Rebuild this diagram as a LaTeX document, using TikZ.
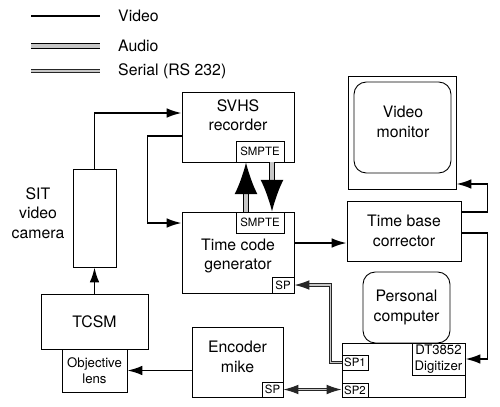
\documentclass[tikz,border=0pt]{standalone}
\usepackage{fontspec}
\setmainfont{TeX Gyre Heros}
\usetikzlibrary{arrows.meta,positioning,calc}

\begin{document}
\begin{tikzpicture}[x=0.02cm,y=-0.02cm,>={Latex[length=8.5pt,width=5.5pt]}, every node/.style={font=\fontsize{9}{11}\selectfont}]
\tikzstyle{box}=[draw,line width=0.5pt,inner sep=0pt,align=center]
\tikzstyle{sub}=[box,font=\fontsize{6.5}{7.5}\selectfont]
\tikzstyle{small}=[box,font=\fontsize{7.5}{9}\selectfont]
\tikzstyle{video}=[line width=1pt]
\tikzstyle{audio}=[line width=0.8pt,double=gray!45,double distance=2pt]
\tikzstyle{serial}=[draw=black!85,line width=0.6pt,double=gray!45,double distance=0.9pt]
\useasboundingbox (0,0) rectangle (500,406);
% legend
\coordinate (vidA) at (31,16); \coordinate (vidB) at (100,16);
\coordinate (audA) at (31,46); \coordinate (audB) at (100,46);
\coordinate (serA) at (31,71); \coordinate (serB) at (100,71);
\node[anchor=west] (vidtxt) at (112,16) {Video};
\node[anchor=west] (audtxt) at (112,46) {Audio};
\node[anchor=west] (sertxt) at (112,71) {Serial (RS 232)};
\draw[video] (vidA) -- (vidB);
\draw[audio] (audA) -- (audB);
\draw[serial] (serA) -- (serB);
% camera side
\node[box,minimum width=0.86cm,minimum height=1.96cm] (cam) at (94.5,218) {};
\node[align=center] (camtxt) at (38,213) {SIT\\video\\camera};
\node[box,minimum width=2.14cm,minimum height=1.1cm] (tcsm) at (94.5,321.5) {TCSM};
\node[small,minimum width=1.3cm,minimum height=0.86cm] (lens) at (94.5,370.5) {Objective\\lens};
% recorder and time code
\node[box,minimum width=2.24cm,minimum height=1.4cm] (svhs) at (238,127) {};
\node[align=center] (svhstxt) at (238,115) {SVHS\\recorder};
\node[sub,minimum width=0.96cm,minimum height=0.42cm] (svsmpte) at (260,151.5) {SMPTE};
\node[box,minimum width=2.24cm,minimum height=1.62cm] (tcg) at (238,252.5) {};
\node[align=center] (tcgtxt) at (238,256) {Time code\\generator};
\node[sub,minimum width=0.96cm,minimum height=0.42cm] (tcsmpte) at (260,222.5) {SMPTE};
\node[sub,minimum width=0.44cm,minimum height=0.32cm] (tcsp) at (283,285) {SP};
\node[box,minimum width=1.82cm,minimum height=1.4cm] (enc) at (237.5,362) {};
\node[align=center] (enctxt) at (237.5,357) {Encoder\\mike};
\node[sub,minimum width=0.42cm,minimum height=0.3cm] (encsp) at (272.5,389.5) {SP};
% monitor and computer
\node[box,minimum width=2.16cm,minimum height=2.26cm] (mon) at (402,132.5) {};
\node[box,rounded corners=7pt,minimum width=1.94cm,minimum height=1.82cm] (screen) at (402.5,127.5) {};
\node[align=center] (montxt) at (403,122) {Video\\monitor};
\node[box,minimum width=2.28cm,minimum height=1.2cm] (tbc) at (404,231) {Time base\\corrector};
\node[box,rounded corners=7pt,minimum width=1.74cm,minimum height=1.42cm] (pc) at (406.5,307.5) {Personal\\computer};
\node[box,minimum width=2.46cm,minimum height=1.08cm] (card) at (403.5,370) {};
\node[small,minimum width=1.06cm,minimum height=0.64cm] (dig) at (438.5,359) {DT3852\\Digitizer};
\node[sub,minimum width=0.52cm,minimum height=0.3cm] (spone) at (355,362.5) {SP1};
\node[sub,minimum width=0.52cm,minimum height=0.28cm] (sptwo) at (355,390) {SP2};
% video
\draw[video,->] (tcsm.north) -- (cam.south);
\draw[video,->] (cam.north) |- ([yshift=0.28cm]svhs.west);
\draw[video,->] ([yshift=-0.18cm]svhs.west) -- ++(-34,0) |- ([yshift=0.59cm]tcg.west);
\coordinate (tcgout) at ([yshift=0.19cm]tcg.east);
\draw[video,->] (tcgout) -- (tcgout -| tbc.west);
\draw[video,->] ([yshift=0.38cm]tbc.east) -- ++(26,0) |- ([yshift=-1.03cm]mon.east);
\draw[video,->] ([yshift=-0.04cm]tbc.east) -- ++(26,0) |- (dig.east);
\draw[video,->] (enc.west |- lens.east) -- (lens.east);
% audio
\draw[audio,-{Latex[length=18pt,width=13pt]}] ([xshift=-0.28cm]tcsmpte.north) -- ([xshift=-0.28cm]svsmpte.south);
\draw[audio,-{Latex[length=18pt,width=13pt]}] ([xshift=0.24cm]svsmpte.south) -- ([xshift=0.24cm]tcsmpte.north);
% serial
\draw[serial,->] (spone.west) -- ++(-11,0) |- (tcsp.east);
\draw[serial,<->] (encsp.east) -- (encsp.east -| sptwo.west);
\end{tikzpicture}
\end{document}
